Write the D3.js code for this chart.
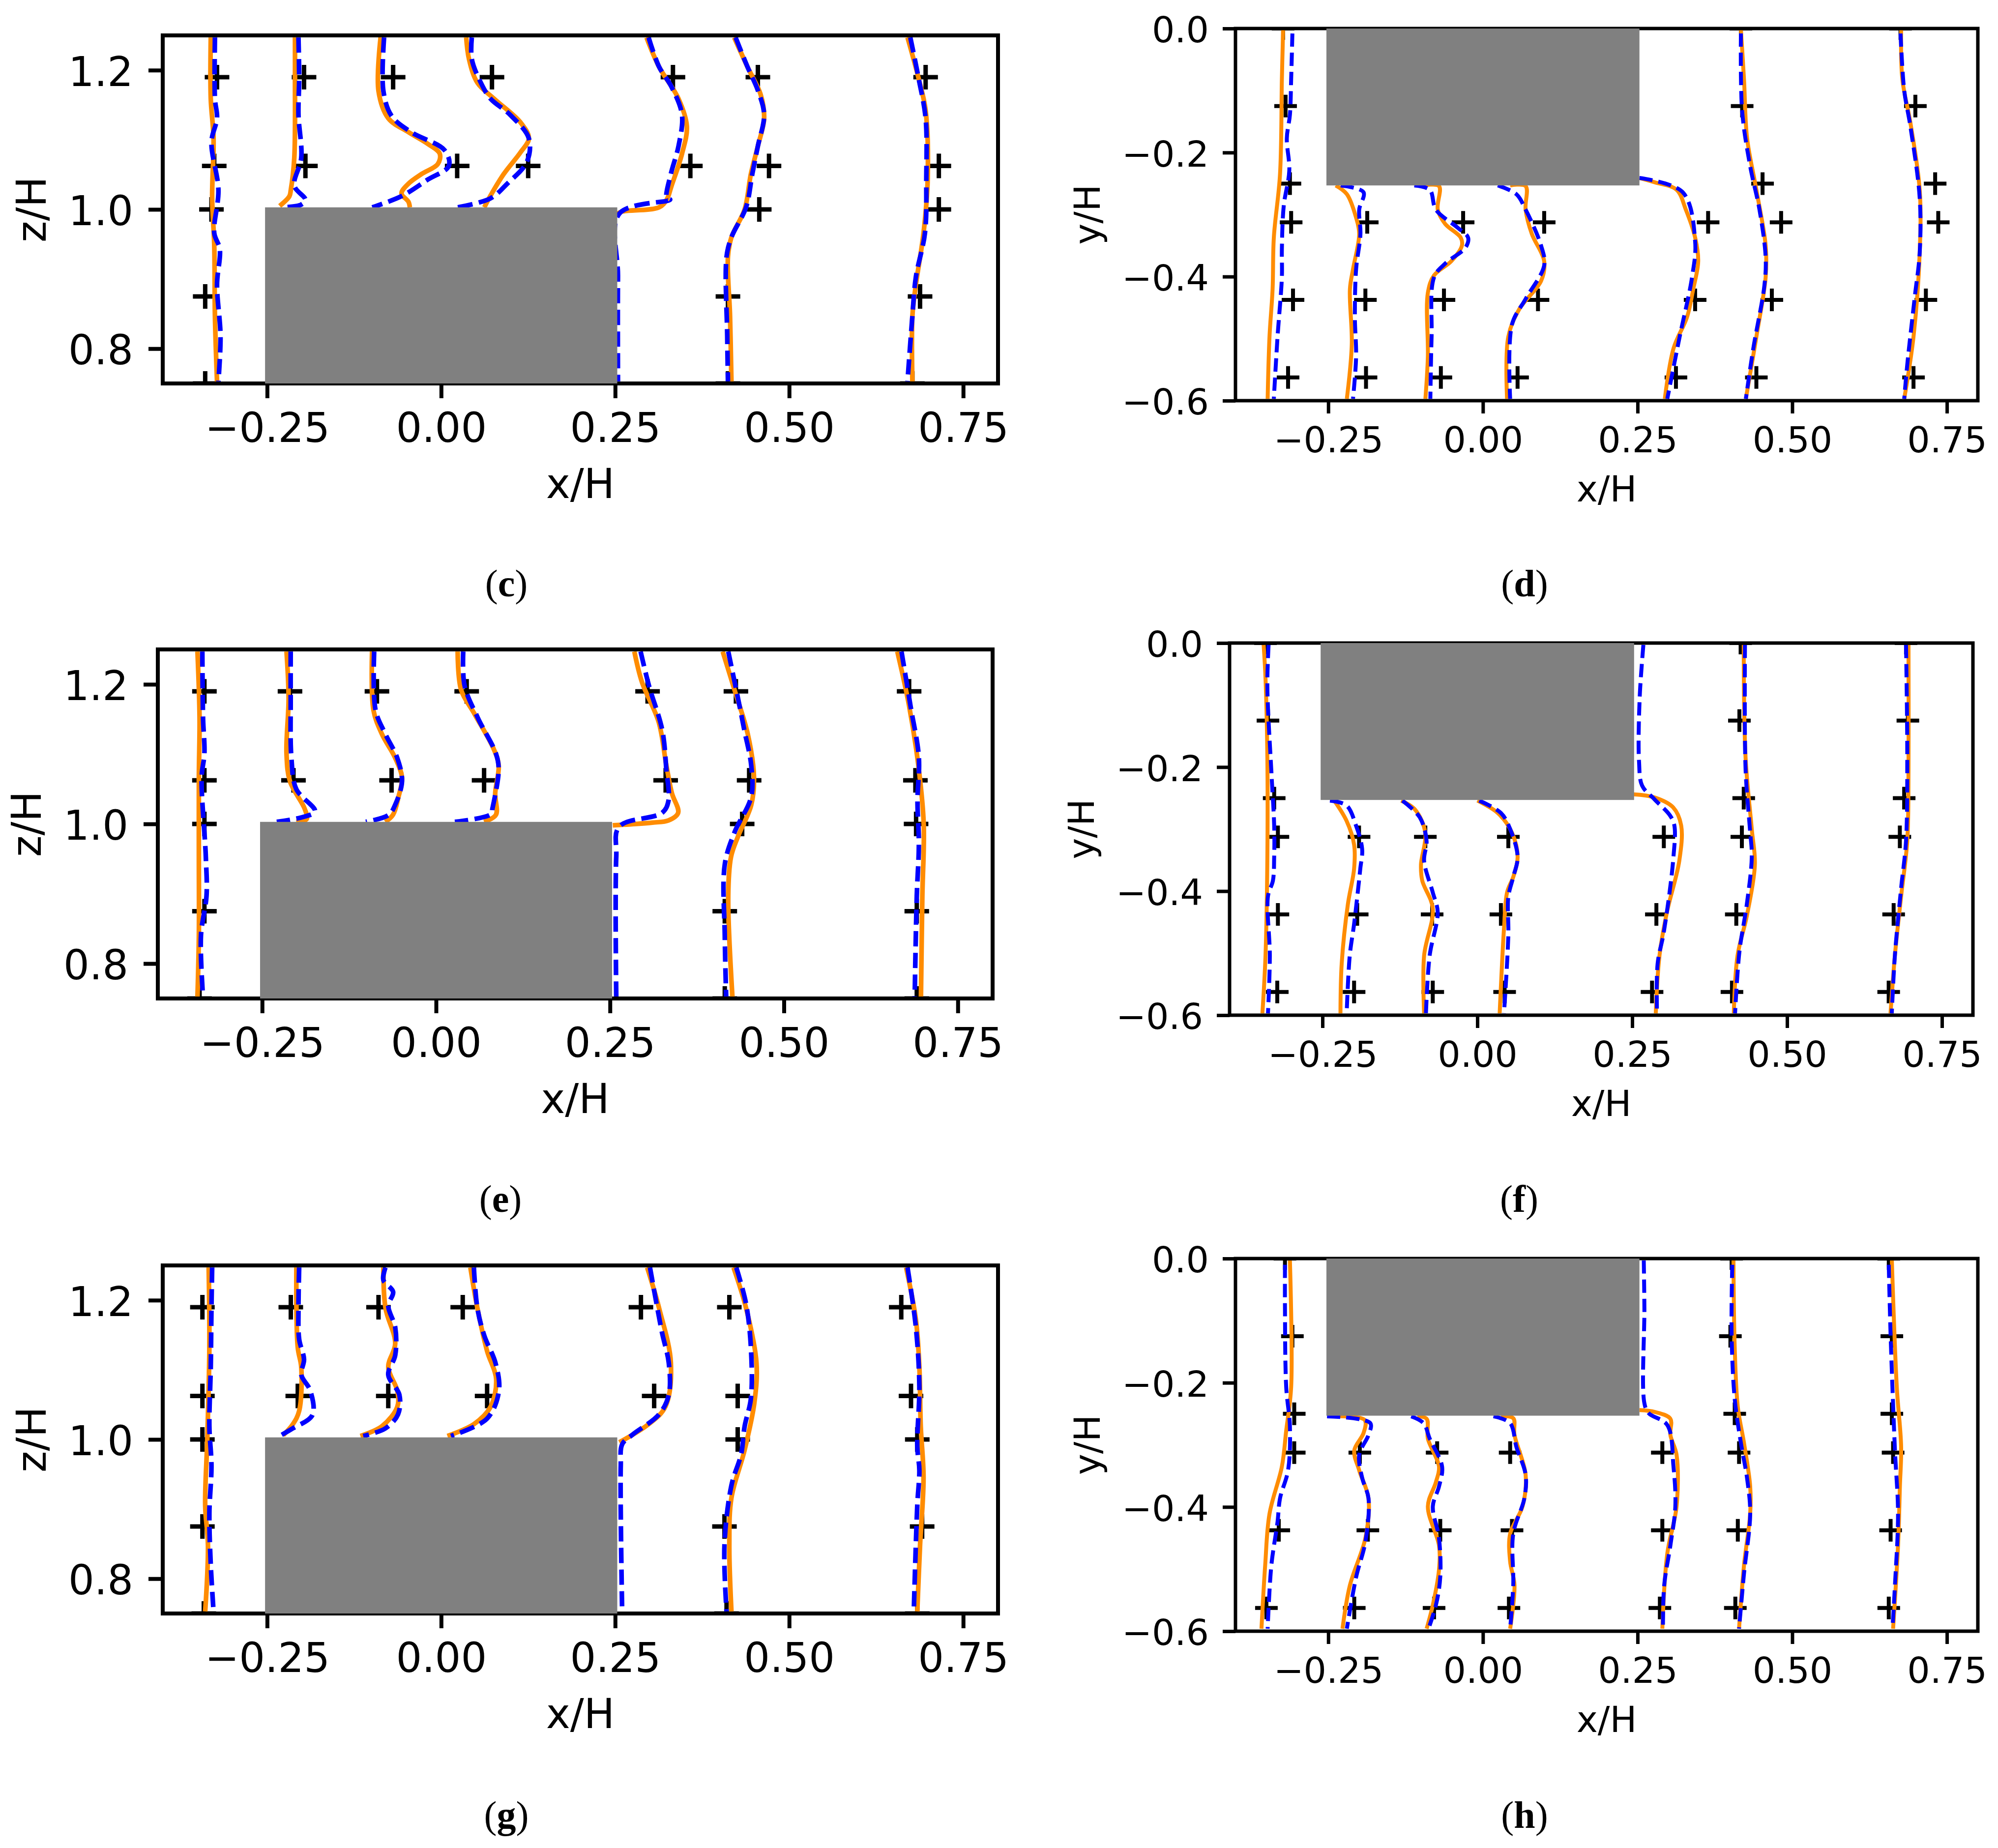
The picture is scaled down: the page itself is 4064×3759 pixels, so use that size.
<!DOCTYPE html>
<html>
<head>
<meta charset="utf-8">
<script src="https://cdn.jsdelivr.net/npm/d3@7"></script>
<style>
  html, body { margin: 0; padding: 0; background: #fff; }
  text { font-family: "DejaVu Sans"; fill: #000; }
</style>
</head>
<body>
<svg id="chart" width="4064" height="3759"></svg>
<script>
const xTicks = [-0.25, 0, 0.25, 0.5, 0.75]
const zTicks = [0.8, 1.0, 1.2]
const yTicks = [-0.6, -0.4, -0.2, 0]
const xDomain = [-0.4, 0.8]
const zDomain = [0.75, 1.25]
const yDomain = [-0.6, 0]
const blockX = [-0.253, 0.253]
const blockZ = [0.75, 1.003]
const blockY = [-0.253, 0]

// panel (c)
const cOrange = [
  [[-.331,1.247],[-.331,1.159],[-.327,1.102],[-.329,1.017],[-.326,.949],[-.325,.847],[-.322,.753]],
  [[-.210,1.247],[-.210,1.188],[-.211,1.074],[-.216,1.028],[-.218,1.019],[-.232,1.005]],
  [[-.087,1.247],[-.090,1.170],[-.076,1.131],[-.047,1.111],[-.019,1.094],[-.002,1.080],[-.005,1.065],[-.028,1.051],[-.047,1.037],[-.057,1.023],[-.047,1.011],[-.045,1.003]],
  [[.036,1.247],[.040,1.216],[.052,1.182],[.076,1.159],[.114,1.125],[.126,1.102],[.114,1.082],[.090,1.051],[.071,1.020],[.062,1.003]],
  [[.295,1.247],[.313,1.205],[.341,1.159],[.353,1.119],[.346,1.080],[.331,1.034],[.324,1.014],[.313,1.003],[.260,.997],[.253,.994]],
  [[.421,1.247],[.440,1.205],[.459,1.165],[.464,1.131],[.455,1.091],[.445,1.051],[.436,1.0],[.417,.960],[.412,.932],[.415,.847],[.417,.753]],
  [[.670,1.247],[.686,1.188],[.696,1.142],[.699,1.045],[.693,.966],[.682,.892],[.677,.847],[.677,.753]]
]
const cBlue = [
  [[-.325,1.247],[-.325,1.159],[-.322,1.131],[-.330,1.097],[-.320,1.028],[-.326,.966],[-.318,.943],[-.322,.892],[-.317,.818],[-.320,.753]],
  [[-.205,1.247],[-.204,1.188],[-.205,1.136],[-.201,1.074],[-.211,1.034],[-.195,1.014],[-.201,1.007],[-.227,1.003]],
  [[-.082,1.247],[-.083,1.170],[-.071,1.134],[-.043,1.111],[.005,1.085],[.011,1.0625],[-.019,1.043],[-.057,1.019],[-.099,1.003]],
  [[.044,1.247],[.044,1.216],[.057,1.182],[.071,1.159],[.099,1.136],[.126,1.102],[.123,1.068],[.095,1.037],[.071,1.016],[.024,1.003]],
  [[.298,1.247],[.313,1.205],[.331,1.176],[.346,1.136],[.341,1.091],[.330,1.051],[.324,1.017],[.329,1.014],[.256,.994],[.254,.903],[.254,.753]],
  [[.423,1.247],[.440,1.205],[.455,1.171],[.464,1.136],[.455,1.091],[.447,1.051],[.438,1.003],[.417,.960],[.410,.932],[.411,.818],[.412,.753]],
  [[.674,1.247],[.686,1.188],[.696,1.131],[.697,1.045],[.695,.966],[.682,.903],[.677,.847],[.670,.753]]
]
const cMarks = [
  [-.322,1.19],[-.326,1.0625],[-.330,1],[-.339,.875],[-.339,.75],
  [-.197,1.19],[-.195,1.0625],
  [-.069,1.19],[.023,1.0625],
  [.073,1.19],[.125,1.0625],
  [.333,1.19],[.358,1.0625],
  [.455,1.19],[.471,1.0625],[.457,1],[.412,.875],[.412,.75],
  [.696,1.19],[.715,1.0625],[.715,1],[.688,.875],[.677,.75]
]

// panel (d)
const dOrange = [
  [[-.323,-.002],[-.325,-.082],[-.328,-.235],[-.338,-.337],[-.340,-.420],[-.345,-.497],[-.348,-.597]],
  [[-.238,-.253],[-.220,-.267],[-.205,-.305],[-.200,-.331],[-.210,-.388],[-.215,-.420],[-.212,-.509],[-.220,-.597]],
  [[-.096,-.253],[-.071,-.254],[-.073,-.292],[-.061,-.315],[-.036,-.337],[-.034,-.350],[-.051,-.375],[-.079,-.398],[-.089,-.426],[-.089,-.529],[-.093,-.597]],
  [[.044,-.253],[.069,-.254],[.069,-.292],[.079,-.331],[.099,-.375],[.094,-.407],[.059,-.452],[.041,-.497],[.039,-.597]],
  [[.253,-.241],[.278,-.248],[.313,-.260],[.328,-.292],[.343,-.337],[.348,-.375],[.340,-.420],[.330,-.465],[.308,-.516],[.294,-.597]],
  [[.417,-.002],[.422,-.082],[.427,-.177],[.442,-.260],[.457,-.350],[.457,-.401],[.442,-.497],[.425,-.597]],
  [[.676,-.002],[.678,-.082],[.691,-.152],[.706,-.260],[.706,-.362],[.696,-.497],[.681,-.597]]
]
const dBlue = [
  [[-.308,-.008],[-.310,-.082],[-.312,-.139],[-.317,-.177],[-.313,-.229],[-.322,-.286],[-.325,-.356],[-.325,-.401],[-.332,-.497],[-.338,-.597]],
  [[-.230,-.253],[-.193,-.264],[-.200,-.292],[-.198,-.331],[-.205,-.388],[-.207,-.465],[-.205,-.529],[-.210,-.597]],
  [[-.111,-.253],[-.086,-.260],[-.076,-.292],[-.041,-.321],[-.024,-.337],[-.028,-.353],[-.061,-.379],[-.079,-.401],[-.083,-.497],[-.085,-.597]],
  [[.024,-.253],[.054,-.267],[.069,-.292],[.094,-.350],[.099,-.382],[.069,-.436],[.047,-.477],[.044,-.597]],
  [[.253,-.241],[.323,-.264],[.343,-.343],[.338,-.401],[.318,-.497],[.298,-.597]],
  [[.417,-.008],[.419,-.133],[.432,-.222],[.447,-.292],[.457,-.369],[.455,-.414],[.437,-.516],[.425,-.597]],
  [[.675,-.008],[.681,-.100],[.691,-.158],[.706,-.273],[.706,-.362],[.698,-.433],[.686,-.541],[.681,-.597]]
]
const dMarks = [
  [-.323,0],[-.319,-.125],[-.312,-.25],[-.310,-.3125],[-.307,-.4375],[-.315,-.5625],
  [-.187,-.3125],[-.190,-.4375],[-.189,-.5625],
  [-.032,-.3125],[-.063,-.4375],[-.068,-.5625],
  [.099,-.3125],[.089,-.4375],[.056,-.5625],
  [.364,-.3125],[.343,-.4375],[.312,-.5625],
  [.417,0],[.419,-.125],[.452,-.25],[.482,-.3125],[.467,-.4375],[.442,-.5625],
  [.675,0],[.699,-.125],[.731,-.25],[.736,-.3125],[.716,-.4375],[.696,-.5625]
]

// panel (e)
const eOrange = [
  [[-.343,1.247],[-.340,1.152],[-.341,1.067],[-.341,.953],[-.341,.840],[-.343,.752]],
  [[-.215,1.247],[-.212,1.180],[-.215,1.101],[-.210,1.061],[-.189,1.022],[-.186,1.007],[-.201,1.003]],
  [[-.092,1.247],[-.090,1.163],[-.078,1.129],[-.059,1.095],[-.049,1.067],[-.054,1.039],[-.062,1.013],[-.073,1.003]],
  [[.031,1.247],[.036,1.192],[.055,1.158],[.083,1.107],[.090,1.084],[.085,1.044],[.086,1.013],[.069,1.003]],
  [[.285,1.247],[.296,1.203],[.320,1.146],[.331,1.084],[.339,1.044],[.348,1.016],[.334,1.005],[.311,1.002],[.254,.998]],
  [[.412,1.247],[.429,1.192],[.448,1.129],[.457,1.067],[.453,1.027],[.434,.982],[.424,.953],[.420,.897],[.426,.752]],
  [[.663,1.247],[.680,1.169],[.694,1.078],[.701,.999],[.699,.897],[.697,.752]]
]
const eBlue = [
  [[-.336,1.247],[-.335,1.152],[-.333,1.101],[-.337,1.067],[-.331,.953],[-.330,.897],[-.338,.840],[-.335,.752]],
  [[-.209,1.247],[-.209,1.180],[-.208,1.095],[-.201,1.050],[-.174,1.018],[-.191,1.010],[-.229,1.003]],
  [[-.089,1.247],[-.087,1.163],[-.073,1.129],[-.056,1.095],[-.049,1.061],[-.059,1.027],[-.068,1.013],[-.101,1.003]],
  [[.039,1.247],[.041,1.198],[.060,1.152],[.086,1.101],[.090,1.078],[.081,1.022],[.079,1.014],[.027,1.003]],
  [[.294,1.247],[.306,1.198],[.325,1.135],[.331,1.078],[.334,1.033],[.325,1.016],[.263,.996],[.259,.953],[.259,.752]],
  [[.420,1.247],[.434,1.180],[.443,1.135],[.453,1.084],[.453,1.039],[.429,.988],[.415,.942],[.415,.840],[.417,.752]],
  [[.669,1.247],[.682,1.169],[.694,1.095],[.692,1.033],[.694,.970],[.691,.897],[.688,.752]]
]
const eMarks = [
  [-.333,1.19],[-.333,1.0625],[-.333,1],[-.333,.875],[-.340,.75],
  [-.210,1.19],[-.205,1.0625],
  [-.085,1.19],[-.064,1.0625],
  [.044,1.19],[.069,1.0625],
  [.304,1.19],[.330,1.0625],
  [.431,1.19],[.450,1.0625],[.440,1],[.415,.875],[.415,.75],
  [.680,1.19],[.689,1.0625],[.690,1],[.691,.875],[.691,.75]
]

// panel (f)
const fOrange = [
  [[-.345,-.003],[-.342,-.057],[-.339,-.185],[-.339,-.345],[-.342,-.504],[-.347,-.597]],
  [[-.231,-.254],[-.211,-.287],[-.199,-.325],[-.199,-.364],[-.209,-.421],[-.219,-.517],[-.221,-.597]],
  [[-.123,-.254],[-.101,-.268],[-.084,-.306],[-.091,-.357],[-.089,-.383],[-.072,-.428],[-.086,-.504],[-.086,-.597]],
  [[0,-.254],[.033,-.274],[.056,-.306],[.065,-.345],[.058,-.377],[.048,-.402],[.043,-.460],[.036,-.597]],
  [[.252,-.244],[.286,-.249],[.316,-.265],[.329,-.294],[.326,-.351],[.306,-.434],[.294,-.504],[.288,-.597]],
  [[.430,-.003],[.433,-.185],[.443,-.300],[.448,-.357],[.435,-.440],[.420,-.504],[.414,-.597]],
  [[.696,-.003],[.696,-.204],[.694,-.319],[.684,-.409],[.674,-.504],[.667,-.597]]
]
const fBlue = [
  [[-.337,-.003],[-.339,-.070],[-.332,-.217],[-.328,-.294],[-.328,-.345],[-.330,-.383],[-.338,-.408],[-.335,-.504],[-.338,-.597]],
  [[-.238,-.254],[-.211,-.262],[-.196,-.294],[-.186,-.332],[-.189,-.364],[-.199,-.453],[-.206,-.504],[-.211,-.597]],
  [[-.121,-.254],[-.093,-.281],[-.082,-.319],[-.086,-.351],[-.072,-.402],[-.064,-.434],[-.077,-.504],[-.083,-.597]],
  [[.003,-.254],[.038,-.274],[.053,-.300],[.065,-.345],[.058,-.377],[.050,-.409],[.050,-.472],[.043,-.597]],
  [[.268,-.003],[.262,-.089],[.261,-.191],[.266,-.230],[.286,-.252],[.311,-.278],[.318,-.294],[.316,-.351],[.301,-.466],[.291,-.517],[.290,-.597]],
  [[.432,-.003],[.433,-.204],[.440,-.300],[.443,-.345],[.435,-.421],[.423,-.498],[.416,-.597]],
  [[.692,-.003],[.694,-.185],[.692,-.319],[.684,-.396],[.674,-.504],[.669,-.597]]
]
const fMarks = [
  [-.342,0],[-.338,-.125],[-.328,-.25],[-.322,-.3125],[-.322,-.4375],[-.323,-.5625],
  [-.191,-.3125],[-.194,-.4375],[-.199,-.5625],
  [-.084,-.3125],[-.073,-.4375],[-.072,-.5625],
  [.050,-.3125],[.038,-.4375],[.044,-.5625],
  [.301,-.3125],[.289,-.4375],[.282,-.5625],
  [.425,0],[.423,-.125],[.430,-.25],[.427,-.3125],[.418,-.4375],[.411,-.5625],
  [.692,0],[.695,-.125],[.689,-.25],[.682,-.3125],[.672,-.4375],[.664,-.5625]
]

// panel (g)
const gOrange = [
  [[-.334,1.247],[-.333,1.132],[-.336,1],[-.339,.905],[-.335,.848],[-.339,.753]],
  [[-.208,1.247],[-.206,1.132],[-.201,1.104],[-.204,1.041],[-.213,1.022],[-.227,1.006]],
  [[-.083,1.247],[-.080,1.189],[-.066,1.138],[-.076,1.104],[-.063,1.070],[-.063,1.047],[-.085,1.019],[-.116,1.005]],
  [[.042,1.247],[.052,1.189],[.066,1.127],[.079,1.087],[.071,1.047],[.047,1.022],[.009,1.005]],
  [[.296,1.247],[.313,1.189],[.330,1.110],[.322,1.047],[.298,1.022],[.256,.996]],
  [[.420,1.247],[.438,1.189],[.453,1.110],[.450,1.053],[.436,.985],[.417,.916],[.414,.848],[.417,.753]],
  [[.668,1.247],[.682,1.172],[.687,1.104],[.689,1.019],[.693,.945],[.688,.848],[.684,.753]]
]
const gBlue = [
  [[-.329,1.247],[-.330,1.189],[-.331,1.104],[-.333,1.019],[-.330,.962],[-.333,.894],[-.331,.820],[-.327,.753]],
  [[-.204,1.247],[-.205,1.189],[-.204,1.144],[-.197,1.115],[-.201,1.093],[-.188,1.070],[-.185,1.035],[-.213,1.016],[-.232,1.005]],
  [[-.080,1.247],[-.083,1.229],[-.069,1.212],[-.076,1.192],[-.066,1.161],[-.066,1.121],[-.076,1.093],[-.060,1.064],[-.062,1.036],[-.080,1.016],[-.112,1.005]],
  [[.047,1.247],[.052,1.189],[.062,1.149],[.078,1.110],[.083,1.070],[.066,1.030],[.014,1.005]],
  [[.300,1.247],[.317,1.155],[.327,1.110],[.327,1.064],[.313,1.036],[.275,1.007],[.260,.993],[.258,.962],[.260,.753]],
  [[.424,1.247],[.438,1.195],[.445,1.132],[.445,1.059],[.436,1.019],[.431,.979],[.417,.934],[.407,.848],[.410,.753]],
  [[.670,1.247],[.682,1.161],[.687,1.076],[.684,.990],[.687,.956],[.684,.905],[.679,.753]]
]
const gMarks = [
  [-.343,1.19],[-.343,1.0625],[-.343,1],[-.343,.875],[-.341,.75],
  [-.216,1.19],[-.206,1.0625],
  [-.090,1.19],[-.076,1.0625],
  [.031,1.19],[.066,1.0625],
  [.287,1.19],[.306,1.0625],
  [.414,1.19],[.426,1.0625],[.426,1],[.407,.875],[.410,.75],
  [.661,1.19],[.675,1.0625],[.684,1],[.691,.875],[.684,.75]
]

// panel (h)
const hOrange = [
  [[-.312,-.003],[-.310,-.207],[-.318,-.277],[-.325,-.335],[-.345,-.411],[-.352,-.494],[-.358,-.596]],
  [[-.235,-.254],[-.191,-.260],[-.193,-.281],[-.208,-.309],[-.200,-.341],[-.185,-.386],[-.190,-.450],[-.215,-.526],[-.227,-.596]],
  [[-.106,-.254],[-.091,-.258],[-.089,-.290],[-.071,-.335],[-.076,-.360],[-.089,-.399],[-.071,-.462],[-.071,-.501],[-.081,-.558],[-.091,-.596]],
  [[.029,-.254],[.049,-.257],[.051,-.284],[.069,-.348],[.064,-.399],[.044,-.443],[.044,-.488],[.051,-.526],[.044,-.596]],
  [[.253,-.244],[.278,-.247],[.303,-.258],[.303,-.284],[.313,-.316],[.313,-.399],[.298,-.475],[.290,-.596]],
  [[.405,-.003],[.407,-.143],[.412,-.239],[.422,-.297],[.432,-.367],[.432,-.411],[.422,-.494],[.414,-.596]],
  [[.661,-.003],[.669,-.207],[.676,-.303],[.674,-.367],[.671,-.462],[.663,-.596]]
]
const hBlue = [
  [[-.320,-.010],[-.320,-.080],[-.318,-.207],[-.312,-.271],[-.315,-.341],[-.328,-.386],[-.332,-.424],[-.342,-.494],[-.348,-.596]],
  [[-.252,-.254],[-.182,-.265],[-.185,-.284],[-.200,-.316],[-.195,-.354],[-.185,-.386],[-.190,-.456],[-.205,-.513],[-.220,-.596]],
  [[-.116,-.254],[-.096,-.265],[-.086,-.290],[-.066,-.335],[-.071,-.367],[-.081,-.399],[-.071,-.450],[-.069,-.513],[-.076,-.558],[-.088,-.596]],
  [[.017,-.254],[.044,-.265],[.054,-.303],[.069,-.348],[.067,-.386],[.049,-.443],[.049,-.526],[.044,-.596]],
  [[.260,-.003],[.261,-.080],[.261,-.233],[.268,-.249],[.298,-.268],[.308,-.335],[.311,-.399],[.303,-.462],[.293,-.526],[.291,-.596]],
  [[.403,-.010],[.402,-.124],[.407,-.226],[.417,-.297],[.427,-.354],[.432,-.411],[.422,-.507],[.414,-.596]],
  [[.656,-.010],[.659,-.124],[.666,-.309],[.671,-.411],[.666,-.526],[.662,-.596]]
]
const hMarks = [
  [-.320,0],[-.308,-.125],[-.305,-.25],[-.305,-.3125],[-.330,-.4375],[-.350,-.5625],
  [-.199,-.3125],[-.186,-.4375],[-.208,-.5625],
  [-.074,-.3125],[-.069,-.4375],[-.079,-.5625],
  [.044,-.3125],[.047,-.4375],[.042,-.5625],
  [.290,-.3125],[.290,-.4375],[.286,-.5625],
  [.402,0],[.400,-.125],[.407,-.25],[.414,-.3125],[.412,-.4375],[.408,-.5625],
  [.656,0],[.661,-.125],[.661,-.25],[.663,-.3125],[.659,-.4375],[.656,-.5625]
]

// pixel boxes: left, right, top, bottom, caption x, caption baseline
const panels = [
  {id: 'c', kind: 'z', orange: cOrange, blue: cBlue, marks: cMarks, box: [331, 2030, 72, 780], cap: [1030, 1213]},
  {id: 'd', kind: 'y', orange: dOrange, blue: dBlue, marks: dMarks, box: [2513, 4023, 58, 815], cap: [3101, 1213]},
  {id: 'e', kind: 'z', orange: eOrange, blue: eBlue, marks: eMarks, box: [321, 2019, 1321, 2031], cap: [1018, 2465]},
  {id: 'f', kind: 'y', orange: fOrange, blue: fBlue, marks: fMarks, box: [2501, 4013, 1308, 2065], cap: [3090, 2465]},
  {id: 'g', kind: 'z', orange: gOrange, blue: gBlue, marks: gMarks, box: [331, 2030, 2574, 3282], cap: [1030, 3718]},
  {id: 'h', kind: 'y', orange: hOrange, blue: hBlue, marks: hMarks, box: [2513, 4023, 2560, 3318], cap: [3101, 3718]}
]

// the left and right columns were scaled differently in the source figure
const looks = {
  z: {font: 83, frame: 8, orange: 9.5, blue: 9.5, dash: '31,13', arm: 25, plus: 9, xTick: 30, xPad: 30, yTick: 29, yPad: 31, xLabel: 233, yLabel: 238, name: 'z/H'},
  y: {font: 73, frame: 7, orange: 8, blue: 8, dash: '27,12', arm: 23, plus: 8, xTick: 26, xPad: 27, yTick: 26, yPad: 28, xLabel: 205, yLabel: 276, name: 'y/H'}
}

const svg = d3.select('#chart')

function drawPanel(p) {
  const [left, right, top, bottom] = p.box
  const isZ = p.kind === 'z'
  const look = looks[p.kind]
  const x = d3.scaleLinear().domain(xDomain).range([left, right])
  const y = d3.scaleLinear().domain(isZ ? zDomain : yDomain).range([bottom, top])
  const clipId = 'clip-' + p.id

  svg.append('clipPath').attr('id', clipId)
    .append('rect')
    .attr('x', left).attr('y', top)
    .attr('width', right - left).attr('height', bottom - top)

  const plot = svg.append('g').attr('clip-path', 'url(#' + clipId + ')')

  plot.selectAll('.mark')
    .data(p.marks)
    .enter()
    .append('path')
    .attr('class', 'mark')
    .attr('d', 'M' + -look.arm + ',0H' + look.arm + 'M0,' + -look.arm + 'V' + look.arm)
    .attr('transform', d => 'translate(' + x(d[0]) + ',' + y(d[1]) + ')')
    .attr('stroke', '#000')
    .attr('stroke-width', look.plus)
    .attr('fill', 'none')

  const line = d3.line()
    .x(d => x(d[0]))
    .y(d => y(d[1]))
    .curve(d3.curveCatmullRom.alpha(0.5))

  plot.selectAll('.orange')
    .data(p.orange)
    .enter()
    .append('path')
    .attr('class', 'orange')
    .attr('d', line)
    .attr('fill', 'none')
    .attr('stroke', '#ff8c00')
    .attr('stroke-width', look.orange)

  plot.selectAll('.blue')
    .data(p.blue)
    .enter()
    .append('path')
    .attr('class', 'blue')
    .attr('d', line)
    .attr('fill', 'none')
    .attr('stroke', '#0000ff')
    .attr('stroke-width', look.blue)
    .attr('stroke-dasharray', look.dash)

  // ticks
  const xAxis = d3.axisBottom(x).tickValues(xTicks).tickFormat(d3.format('.2f')).tickSize(look.xTick).tickPadding(look.xPad)
  const yAxis = d3.axisLeft(y).tickValues(isZ ? zTicks : yTicks).tickFormat(d3.format('.1f')).tickSize(look.yTick).tickPadding(look.yPad)
  const gx = svg.append('g').attr('transform', 'translate(0,' + bottom + ')').call(xAxis)
  const gy = svg.append('g').attr('transform', 'translate(' + left + ',0)').call(yAxis)
  for (const g of [gx, gy]) {
    g.select('.domain').remove()
    g.selectAll('line').attr('stroke', '#000').attr('stroke-width', look.frame)
    g.selectAll('text').attr('font-family', 'DejaVu Sans').attr('font-size', look.font).attr('fill', '#000')
  }
  gy.selectAll('text').attr('dy', '0.38em')

  svg.append('rect')
    .attr('x', left).attr('y', top)
    .attr('width', right - left).attr('height', bottom - top)
    .attr('fill', 'none')
    .attr('stroke', '#000')
    .attr('stroke-width', look.frame)

  // the block sits over the frame
  const bv = isZ ? blockZ : blockY
  svg.append('rect')
    .attr('x', x(blockX[0]))
    .attr('y', y(bv[1]))
    .attr('width', x(blockX[1]) - x(blockX[0]))
    .attr('height', y(bv[0]) - y(bv[1]))
    .attr('fill', '#808080')

  svg.append('text')
    .attr('x', (left + right) / 2)
    .attr('y', bottom + look.xLabel)
    .attr('text-anchor', 'middle')
    .attr('font-size', look.font)
    .text('x/H')

  svg.append('text')
    .attr('transform', 'translate(' + (left - look.yLabel) + ',' + (top + bottom) / 2 + ') rotate(-90)')
    .attr('text-anchor', 'middle')
    .attr('font-size', look.font)
    .text(look.name)

  const cap = svg.append('text')
    .attr('x', p.cap[0])
    .attr('y', p.cap[1])
    .attr('text-anchor', 'middle')
    .attr('font-size', 78)
    .style('font-family', '"Liberation Serif"')
  cap.append('tspan').text('(')
  cap.append('tspan').attr('font-weight', 'bold').text(p.id)
  cap.append('tspan').text(')')
}

panels.forEach(drawPanel)
</script>
</body>
</html>
